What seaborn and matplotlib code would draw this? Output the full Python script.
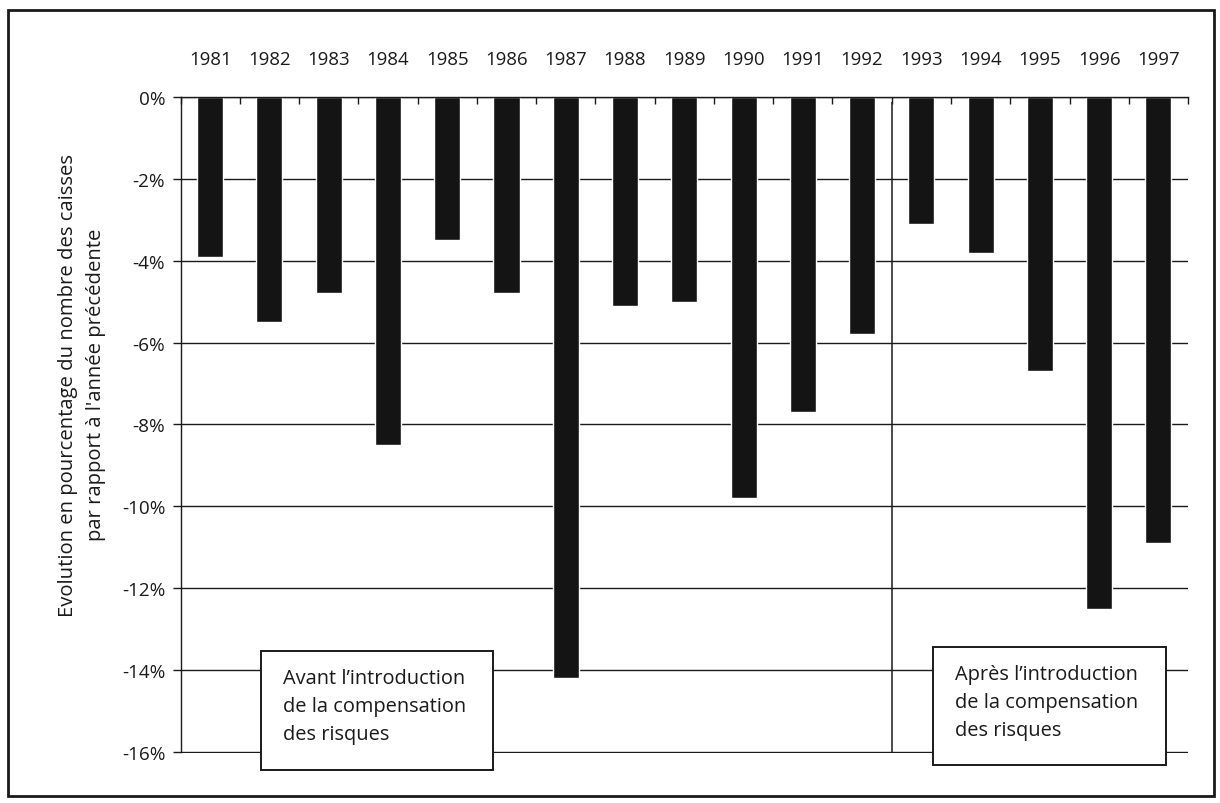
import numpy as np
import pandas as pd
import matplotlib
matplotlib.use("Agg")
import matplotlib.pyplot as plt
from matplotlib.patches import Rectangle
import seaborn as sns

# Annual change in the number of health insurance funds (% vs previous year)
years = ["1981", "1982", "1983", "1984", "1985", "1986", "1987", "1988", "1989",
         "1990", "1991", "1992", "1993", "1994", "1995", "1996", "1997"]
change_pct = [-3.9, -5.5, -4.8, -8.5, -3.5, -4.8, -14.2, -5.1, -5.0,
              -9.8, -7.7, -5.8, -3.1, -3.8, -6.7, -12.5, -10.9]
y_ticks = [0, -2, -4, -6, -8, -10, -12, -14, -16]
y_tick_labels = ["0%", "-2%", "-4%", "-6%", "-8%", "-10%", "-12%", "-14%", "-16%"]
first_year_after = "1993"

y_label = ("Evolution en pourcentage du nombre des caisses\n"
           "par rapport à l'année précédente")
label_before = "Avant l’introduction\nde la compensation\ndes risques"
label_after = "Après l’introduction\nde la compensation\ndes risques"

sns.set_style("white")
plt.rcParams["font.family"] = ["Open Sans", "DejaVu Sans"]
ink = "#1a1a1a"

df = pd.DataFrame({"annee": years, "variation": change_pct})

fig = plt.figure(figsize=(12.2, 8.04), dpi=100)
ax = fig.add_axes([0.148, 0.0622, 0.8258, 0.8159])

sns.barplot(data=df, x="annee", y="variation", order=years, color="#141414",
            saturation=1, width=0.44, ax=ax, zorder=2)

ax.set_xlim(-0.5, len(years) - 0.5)
ax.set_ylim(-16.03, 0)

# horizontal grid behind the bars
ax.set_axisbelow(True)
ax.yaxis.grid(True, color=ink, linewidth=1.0)
ax.xaxis.grid(False)

# year labels on top, small ticks between categories
ax.xaxis.tick_top()
ax.set_xlabel("")
ax.set_ylabel("")
ax.set_xticks(range(len(years)))
ax.set_xticklabels(years)
ax.set_xticks(np.arange(len(years) + 1) - 0.5, minor=True)
ax.tick_params(axis="x", which="major", length=0, pad=21, labelsize=13.4,
               labelcolor=ink, top=True, bottom=False)
ax.tick_params(axis="x", which="minor", length=5, width=1.0, direction="in",
               color=ink, top=True, bottom=False)

ax.set_yticks(y_ticks)
ax.set_yticklabels(y_tick_labels)
ax.tick_params(axis="y", which="major", length=6, width=1.0, direction="out",
               color=ink, pad=5, labelsize=13.6, labelcolor=ink, left=True)

for side in ("right", "bottom"):
    ax.spines[side].set_visible(False)
for side in ("top", "left"):
    ax.spines[side].set_color(ink)
    ax.spines[side].set_linewidth(1.0)
ax.spines["left"].set_bounds(-16, 0)

# separator between the two periods
sep_x = years.index(first_year_after) - 0.5
ax.vlines(sep_x, -16, -0.12, color=ink, linewidth=1.1, zorder=3)

ax.text(-0.098, 0.5625, y_label, transform=ax.transAxes, rotation=90,
        ha="center", va="center", multialignment="center", fontsize=14.6,
        color=ink, linespacing=1.5)

# period boxes
boxes = [
    ((0.0799, -0.026), 0.2302, 0.1815, label_before, 0.1017, 0.0716),
    ((0.747, -0.018), 0.231, 0.1796, label_after, 0.7687, 0.0777),
]
for (bx, by), bw, bh, txt, tx, ty in boxes:
    ax.add_patch(Rectangle((bx, by), bw, bh, transform=ax.transAxes,
                           facecolor="white", edgecolor=ink, linewidth=1.4,
                           clip_on=False, zorder=4))
    ax.text(tx, ty, txt, transform=ax.transAxes, ha="left", va="center",
            fontsize=14.4, color=ink, linespacing=1.52, zorder=5)

# outer frame
fig.add_artist(Rectangle((8 / 1220, 1 - 797 / 804), 1206 / 1220, 786 / 804,
                         transform=fig.transFigure, fill=False,
                         edgecolor=ink, linewidth=2.0))

fig.savefig("out.png", dpi=100, facecolor="white")
